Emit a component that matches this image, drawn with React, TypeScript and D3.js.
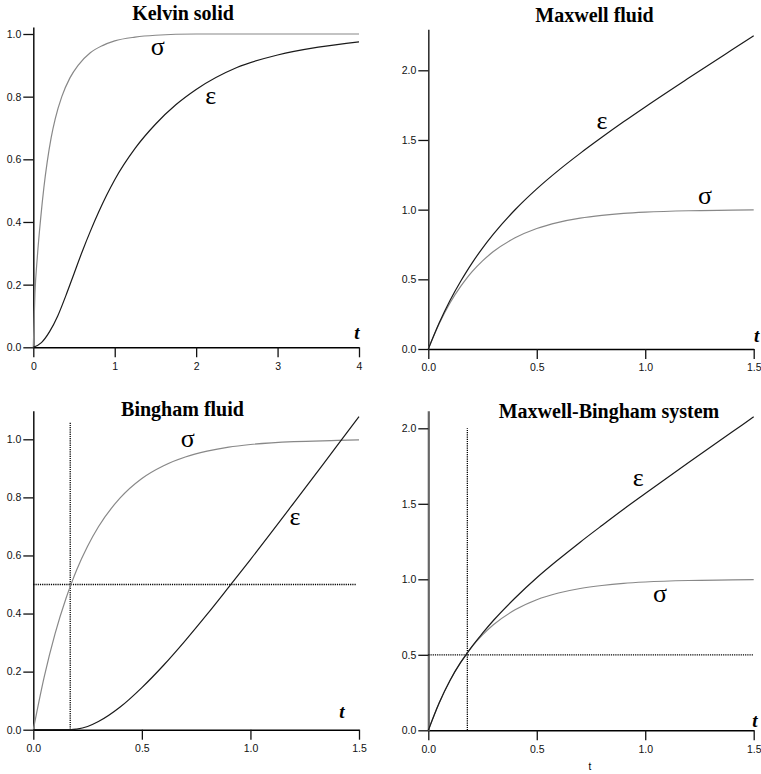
import { useEffect, useRef } from "react";
import * as d3 from "d3";

// Kelvin solid (t from 0 to 4)
const kelvinSigmaT = [0, 0.02, 0.05, 0.09, 0.13, 0.17, 0.22, 0.27, 0.35, 0.45, 0.55, 0.7, 0.85, 1.0, 1.25, 1.5, 2, 3, 4];
const kelvinSigma = [0, 0.17, 0.29, 0.41, 0.51, 0.59, 0.67, 0.73, 0.8, 0.86, 0.9, 0.94, 0.963, 0.978, 0.99, 0.996, 1, 1, 1];
const kelvinEpsT = [0, 0.1, 0.2, 0.3, 0.4, 0.5, 0.6, 0.7, 0.8, 0.9, 1.0, 1.25, 1.5, 1.75, 2.0, 2.5, 3.0, 3.5, 4.0];
const kelvinEps = [0, 0.015, 0.05, 0.1, 0.165, 0.235, 0.305, 0.37, 0.43, 0.485, 0.535, 0.635, 0.712, 0.774, 0.823, 0.893, 0.933, 0.958, 0.975];

// the three fluid panels (t from 0 to 1.5)
const fluidT = [0, 0.05, 0.1, 0.15, 0.175, 0.2, 0.25, 0.3, 0.4, 0.5, 0.6, 0.7, 0.8, 0.9, 1.0, 1.2, 1.4, 1.5];
const fluidSigma = [0, 0.181, 0.33, 0.451, 0.503, 0.551, 0.632, 0.699, 0.798, 0.865, 0.909, 0.939, 0.959, 0.973, 0.982, 0.992, 0.996, 0.998];
const maxwellEps = [0, 0.186, 0.348, 0.488, 0.552, 0.613, 0.724, 0.824, 0.999, 1.149, 1.282, 1.404, 1.519, 1.63, 1.737, 1.944, 2.147, 2.248];
const binghamEps = [0, 0, 0, 0, 0, 0.002, 0.011, 0.028, 0.078, 0.145, 0.222, 0.307, 0.397, 0.491, 0.586, 0.781, 0.979, 1.078];
const mbEps = [0, 0.181, 0.33, 0.451, 0.503, 0.553, 0.643, 0.727, 0.876, 1.01, 1.131, 1.246, 1.356, 1.464, 1.568, 1.773, 1.975, 2.076];

// ticks
const kelvinXTicks = [0, 1, 2, 3, 4];
const fluidXTicks = [0, 0.5, 1, 1.5];
const unitYTicks = [0, 0.2, 0.4, 0.6, 0.8, 1];
const wideYTicks = [0, 0.5, 1, 1.5, 2];

// yield guides (t of yield, top of vertical line, stress level)
const binghamGuide = { t: 0.17, top: 1.057, level: 0.5, xEnd: 1.486 };
const mbGuide = { t: 0.18, top: 2.0, level: 0.5, xEnd: 1.5 };

const SERIF = "'Liberation Serif', 'Times New Roman', serif";
const SANS = "'Liberation Sans', Arial, Helvetica, sans-serif";

const panels = [
  {
    title: "Kelvin solid", titleX: 183, titleY: 20,
    left: 33.3, right: 359, xMax: 4, bottom: 347.3, yRef: 1, yRefPx: 34, axisTop: 27,
    xTicks: kelvinXTicks, xFmt: d3.format("d"), yTicks: unitYTicks,
    sigma: d3.zip(kelvinSigmaT, kelvinSigma), eps: d3.zip(kelvinEpsT, kelvinEps),
    sigmaLbl: [1.53, 0.933], epsLbl: [2.18, 0.777], tDx: -2, tDy: -8,
    guide: null as null | typeof binghamGuide, yColor: "#111", yWidth: 1.5,
  },
  {
    title: "Maxwell fluid", titleX: 594.5, titleY: 21.5,
    left: 428.3, right: 753.7, xMax: 1.5, bottom: 349, yRef: 2, yRefPx: 70.3, axisTop: 29.3,
    xTicks: fluidXTicks, xFmt: d3.format(".1f"), yTicks: wideYTicks,
    sigma: d3.zip(fluidT, fluidSigma), eps: d3.zip(fluidT, maxwellEps),
    sigmaLbl: [1.276, 1.043], epsLbl: [0.8, 1.581], tDx: 3, tDy: -7.3,
    guide: null, yColor: "#333", yWidth: 1.6,
  },
  {
    title: "Bingham fluid", titleX: 182.5, titleY: 416,
    left: 33.3, right: 359, xMax: 1.5, bottom: 729.7, yRef: 1, yRefPx: 439.3, axisTop: 410.7,
    xTicks: fluidXTicks, xFmt: d3.format(".1f"), yTicks: unitYTicks,
    sigma: d3.zip(fluidT, fluidSigma), eps: d3.zip(fluidT, binghamEps),
    sigmaLbl: [0.711, 0.973], epsLbl: [1.205, 0.704], tDx: -17, tDy: -11.4,
    guide: binghamGuide, yColor: "#111", yWidth: 1.5,
  },
  {
    title: "Maxwell-Bingham system", titleX: 609, titleY: 417.7,
    left: 428.3, right: 753.7, xMax: 1.5, bottom: 730.3, yRef: 2, yRefPx: 428.3, axisTop: 410.7,
    xTicks: fluidXTicks, xFmt: d3.format(".1f"), yTicks: wideYTicks,
    sigma: d3.zip(fluidT, fluidSigma), eps: d3.zip(fluidT, mbEps),
    sigmaLbl: [1.068, 0.85], epsLbl: [0.968, 1.616], tDx: 1.3, tDy: -3.6,
    guide: mbGuide, yColor: "#666", yWidth: 2.2,
  },
];

const App: React.FC = () => {
  const ref = useRef<SVGSVGElement>(null);

  useEffect(() => {
    const svg = d3.select(ref.current);
    svg.selectAll("*").remove();

    panels.forEach((p) => {
      const x = d3.scaleLinear().domain([0, p.xMax]).range([p.left, p.right]);
      const yRefScale = d3.scaleLinear().domain([0, p.yRef]).range([p.bottom, p.yRefPx]);
      const y = d3.scaleLinear().domain([0, yRefScale.invert(p.axisTop)]).range([p.bottom, p.axisTop]);
      const g = svg.append("g");

      g.append("text")
        .attr("x", p.titleX).attr("y", p.titleY)
        .attr("text-anchor", "middle")
        .attr("font-family", SERIF).attr("font-weight", "bold").attr("font-size", 20)
        .text(p.title);

      // axes
      const xAxis = d3.axisBottom(x).tickValues(p.xTicks).tickFormat(p.xFmt as any)
        .tickSize(10).tickPadding(5).tickSizeOuter(0);
      const yAxis = d3.axisLeft(y).tickValues(p.yTicks).tickFormat(d3.format(".1f") as any)
        .tickSize(10).tickPadding(2).tickSizeOuter(0);

      const gx = g.append("g").attr("transform", `translate(0,${p.bottom})`).call(xAxis);
      const gy = g.append("g").attr("transform", `translate(${p.left},0)`).call(yAxis);
      [gx, gy].forEach((a) => {
        a.selectAll("text").attr("font-family", SANS).attr("font-size", 10.5).attr("fill", "#111");
        a.selectAll(".tick line").attr("stroke", "#111").attr("stroke-width", 1.3);
      });
      gx.select(".domain").attr("stroke", "#000").attr("stroke-width", 1.4);
      gy.select(".domain").attr("stroke", p.yColor).attr("stroke-width", p.yWidth);

      // dotted yield guides
      if (p.guide) {
        g.append("line")
          .attr("x1", x(p.guide.t)).attr("x2", x(p.guide.t))
          .attr("y1", y(0)).attr("y2", y(p.guide.top))
          .attr("stroke", "#000").attr("stroke-width", 1.3).attr("stroke-dasharray", "1.2,1");
        g.append("line")
          .attr("x1", x(0)).attr("x2", x(p.guide.xEnd))
          .attr("y1", y(p.guide.level)).attr("y2", y(p.guide.level))
          .attr("stroke", "#000").attr("stroke-width", 1.3).attr("stroke-dasharray", "1.2,1");
      }

      const line = d3.line<[number, number]>()
        .x((d) => x(d[0]))
        .y((d) => y(d[1]))
        .curve(d3.curveMonotoneX);

      g.append("path").datum(p.sigma as [number, number][])
        .attr("fill", "none").attr("stroke", "#888").attr("stroke-width", 1.2)
        .attr("d", line);
      g.append("path").datum(p.eps as [number, number][])
        .attr("fill", "none").attr("stroke", "#1a1a1a").attr("stroke-width", 1.2)
        .attr("d", line);

      // curve labels
      g.append("text")
        .attr("x", x(p.sigmaLbl[0])).attr("y", y(p.sigmaLbl[1]))
        .attr("text-anchor", "middle").attr("font-family", SERIF).attr("font-size", 26)
        .text("σ");
      g.append("text")
        .attr("x", x(p.epsLbl[0])).attr("y", y(p.epsLbl[1]))
        .attr("text-anchor", "middle").attr("font-family", SERIF).attr("font-size", 26)
        .text("ε");

      g.append("text")
        .attr("x", p.right + p.tDx).attr("y", p.bottom + p.tDy)
        .attr("text-anchor", "middle").attr("font-family", SERIF)
        .attr("font-weight", "bold").attr("font-style", "italic").attr("font-size", 19)
        .text("t");
    });

    // small axis caption under the last panel
    svg.append("text")
      .attr("x", 590).attr("y", 770)
      .attr("text-anchor", "middle").attr("font-family", SANS).attr("font-size", 10)
      .text("t");
  }, []);

  return (
    <svg
      ref={ref}
      width={761}
      height={774}
      style={{ position: "absolute", left: 0, top: 0, background: "#fff" }}
    />
  );
};

export default App;
